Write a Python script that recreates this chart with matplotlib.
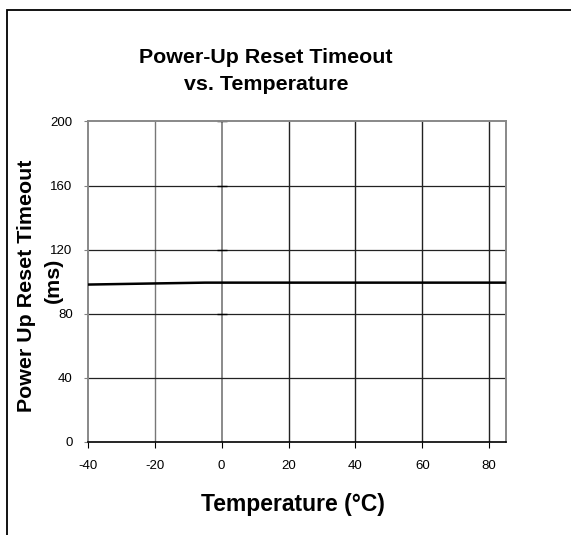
import numpy as np
import matplotlib.pyplot as plt
import matplotlib.patches as mpatches

temps = [-40, -20, -5, 25, 55, 85]
timeout = [98.2, 98.9, 99.4, 99.4, 99.4, 99.4]

xticks = [-40, -20, 0, 20, 40, 60, 80]
yticks = [0, 40, 80, 120, 160, 200]
zero_marks = [80, 120, 160, 200]

plt.rcParams['font.family'] = ['Liberation Sans', 'DejaVu Sans']
plt.rcParams['axes.unicode_minus'] = False

fig = plt.figure(figsize=(5.71, 5.35), dpi=100)
ax = fig.add_axes([0.154, 0.174, 0.732, 0.599])

# outer frame (cut off on the right and bottom)
frame = mpatches.Rectangle((7 / 571, -0.1), 1.2, 1.1 - 10 / 535,
                           transform=fig.transFigure, fill=False,
                           edgecolor='black', linewidth=1.3)
fig.patches.append(frame)

ax.plot(temps, timeout, color='black', linewidth=1.8, zorder=3)

ax.set_xlim(-40, 85)
ax.set_ylim(0, 200)
ax.set_xticks(xticks)
ax.set_yticks(yticks)
ax.tick_params(axis='x', direction='out', length=4, color='black', labelsize=9.5, pad=9)
ax.tick_params(axis='y', direction='out', length=3, color='gray', labelsize=9.5, pad=8)

for x in xticks[1:]:
    c = '#777777' if x <= 0 else '#222222'
    ax.axvline(x, color=c, linewidth=1.2 if x == 0 else 1.0, zorder=1)
for y in yticks[1:-1]:
    ax.axhline(y, color='#222222', linewidth=0.9, zorder=1)

# small marks on the zero line
ax.plot(np.zeros(len(zero_marks)), zero_marks, marker='_', markersize=7,
        color='black', linestyle='none', zorder=2, clip_on=False)

for s in ['left', 'right', 'top']:
    ax.spines[s].set_color('#888888')
    ax.spines[s].set_linewidth(1.4)
ax.spines['bottom'].set_color('black')
ax.spines['bottom'].set_linewidth(1.2)

fig.text(0.466, 0.867, 'Power-Up Reset Timeout\nvs. Temperature', ha='center', va='center',
         fontsize=15.4, fontweight='bold', linespacing=1.55)
ax.set_xlabel('Temperature (°C)', fontsize=16.5, fontweight='bold')
ax.xaxis.set_label_coords(0.49, -0.16)
# y label drawn as two texts, like the original
fig.text(27 / 571, 1 - 286 / 535, 'Power Up Reset Timeout', rotation=90,
         ha='center', va='center', fontsize=15.4, fontweight='bold')
fig.text(53 / 571, 1 - 280 / 535, '(ms)', rotation=90,
         ha='center', va='center', fontsize=15.4, fontweight='bold')

fig.savefig('out.png', dpi=100)
